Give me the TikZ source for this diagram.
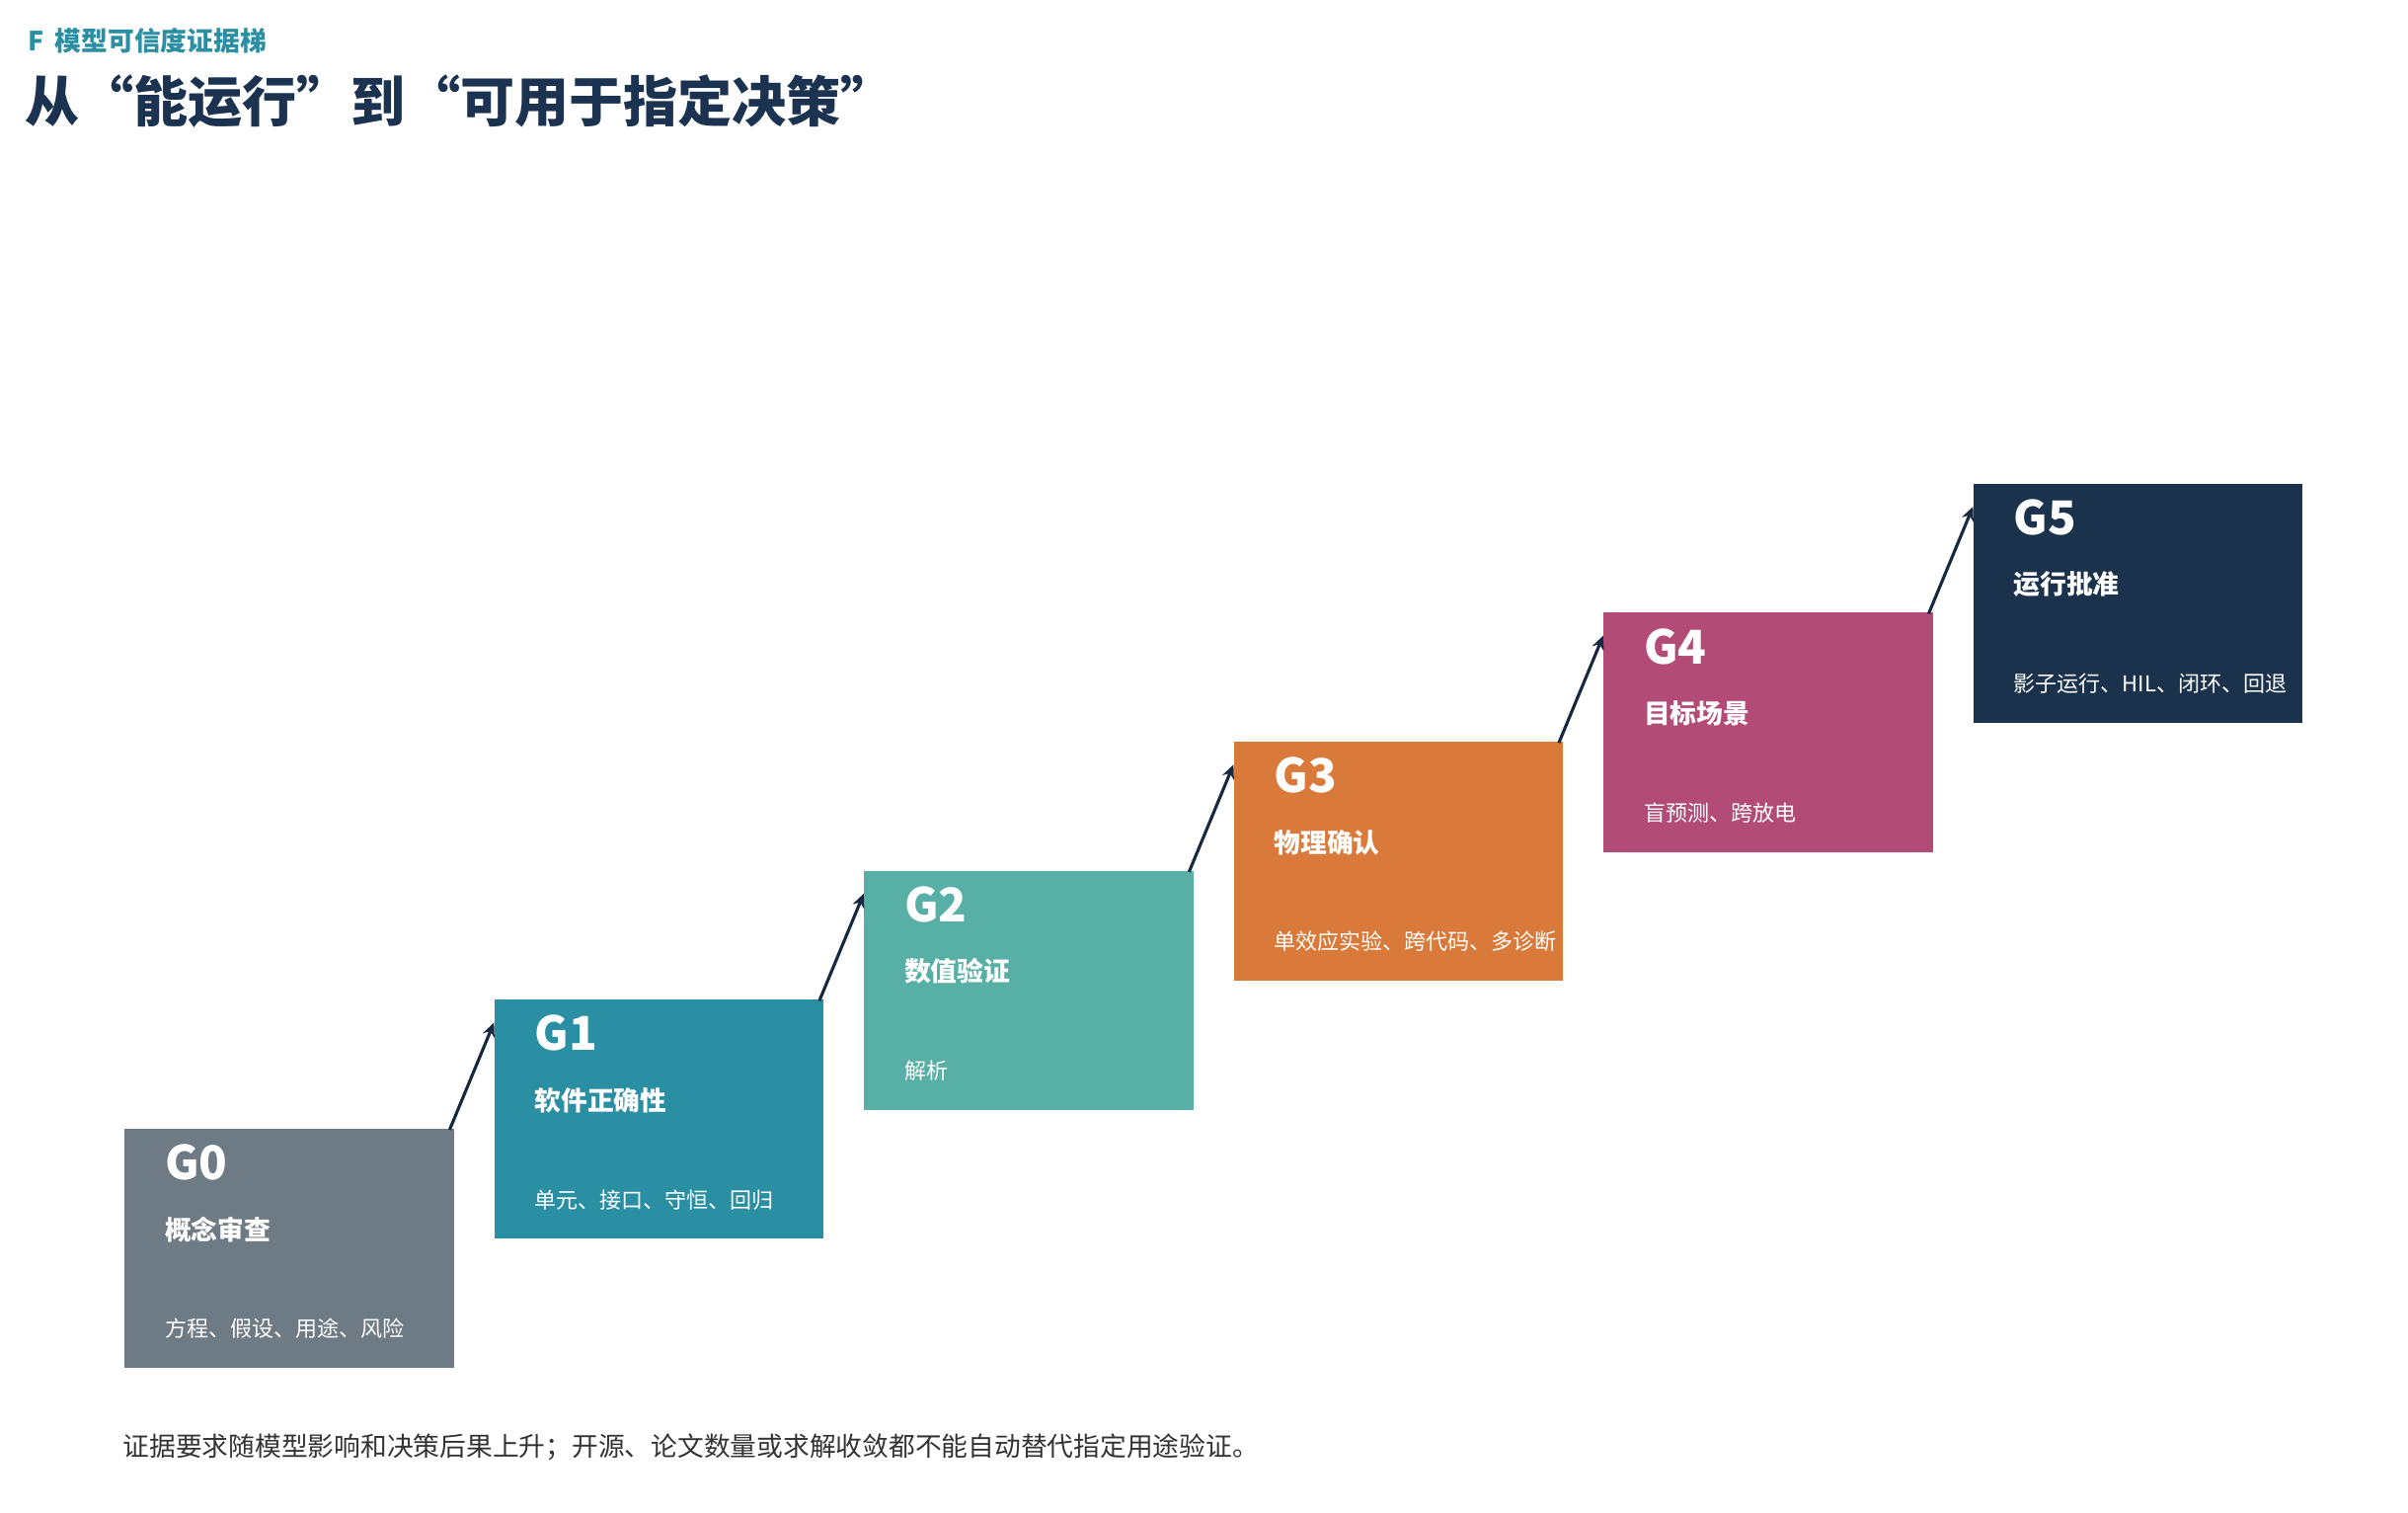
\documentclass[tikz,border=0pt]{standalone}
\usepackage{fontspec}
\setmainfont{Noto Sans CJK SC}
\usetikzlibrary{arrows.meta}
\definecolor{c0}{HTML}{6E7B85}
\definecolor{c1}{HTML}{2B8FA3}
\definecolor{c2}{HTML}{58AFA6}
\definecolor{c3}{HTML}{DA7A3A}
\definecolor{c4}{HTML}{B24C77}
\definecolor{c5}{HTML}{1A324C}
\definecolor{navy}{HTML}{1B3350}
\begin{document}
\begin{tikzpicture}[x=1pt,y=-1pt,
  box/.style={draw=none,fill=#1,minimum width=212pt,minimum height=154pt,inner sep=0pt,anchor=north west},
  glab/.style={anchor=west,text=white,font=\fontsize{30}{30}\selectfont\bfseries,inner sep=0pt},
  ttl/.style={anchor=west,text=white,font=\fontsize{17}{17}\selectfont\bfseries,inner sep=0pt},
  sub/.style={anchor=west,text=white,font=\fontsize{14}{14}\selectfont,inner sep=0pt},
  arr/.style={draw=navy!80!black,line width=2pt,-{Stealth[length=9pt,width=8pt]}}]
\useasboundingbox (0,0) rectangle (1550,973);
\node[anchor=west,inner sep=0pt,text=c1,font=\fontsize{17}{17}\selectfont\bfseries] (hd) at (18,26) {F\hspace{7pt}模型可信度证据梯};
\node[anchor=west,inner sep=0pt,text=navy,font=\fontsize{35}{35}\selectfont\bfseries] (title) at (16,65) {从“能运行”到“可用于指定决策”};
\foreach \i/\t/\s in {0/概念审查/方程、假设、用途、风险,1/软件正确性/单元、接口、守恒、回归,2/数值验证/解析/制造解、网格与时间步,3/物理确认/单效应实验、跨代码、多诊断,4/目标场景/盲预测、跨放电/跨装置、UQ,5/运行批准/影子运行、HIL、闭环、回退}{
  \pgfmathsetmacro\xx{80+238*\i}
  \pgfmathsetmacro\yy{726-83*\i}
  \node[box=c\i] (b\i) at (\xx,\yy) {};
  \node[glab] (g\i) at (\xx+26,\yy+22) {G\i};
  \node[ttl] (t\i) at (\xx+26,\yy+65) {\t};
  \node[sub] (s\i) at (\xx+26,\yy+129) {\s};
}
\foreach \i [evaluate=\i as \j using int(\i+1)] in {0,...,4}{
  \coordinate (e\i) at ([yshift=-15pt]b\j.north west);
  \draw[arr] ([xshift=-3pt,yshift=-1pt]b\i.north east) -- (e\i);
}
\node[anchor=west,inner sep=0pt,text=black!80,font=\fontsize{17}{17}\selectfont] (foot) at (79,931) {证据要求随模型影响和决策后果上升；开源、论文数量或求解收敛都不能自动替代指定用途验证。};
\end{tikzpicture}
\end{document}
